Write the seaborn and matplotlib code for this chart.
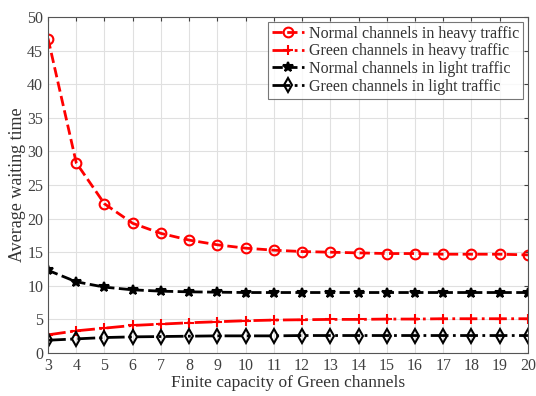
import numpy as np
import pandas as pd
import seaborn as sns
import matplotlib.pyplot as plt

# data
capacity = list(range(3, 21))
normal_heavy = [46.8, 28.3, 22.2, 19.3, 17.8, 16.8, 16.1, 15.6, 15.3, 15.1,
                15.0, 14.9, 14.8, 14.8, 14.7, 14.7, 14.7, 14.6]
green_heavy = [2.7, 3.3, 3.7, 4.1, 4.3, 4.5, 4.65, 4.8, 4.9, 4.95,
               5.0, 5.0, 5.05, 5.05, 5.1, 5.1, 5.1, 5.1]
normal_light = [12.3, 10.6, 9.8, 9.4, 9.2, 9.1, 9.05, 9.0, 9.0, 9.0,
                9.0, 9.0, 9.0, 9.0, 9.0, 9.0, 9.0, 9.0]
green_light = [1.9, 2.1, 2.3, 2.4, 2.45, 2.5, 2.55, 2.55, 2.55, 2.6,
               2.6, 2.6, 2.6, 2.6, 2.6, 2.6, 2.6, 2.6]

series = {
    'Normal channels in heavy traffic': normal_heavy,
    'Green channels in heavy traffic': green_heavy,
    'Normal channels in light traffic': normal_light,
    'Green channels in light traffic': green_light,
}
styles = {
    'Normal channels in heavy traffic': dict(color='#ff0000', ls='--', marker='o', mfc='none'),
    'Green channels in heavy traffic': dict(color='#ff0000', ls='-.', marker='+', mfc='none'),
    'Normal channels in light traffic': dict(color='black', ls='--', marker='*', mfc='black'),
    'Green channels in light traffic': dict(color='black', ls='-.', marker='d', mfc='none'),
}

sns.set_style('white')
plt.rcParams['font.family'] = ['Liberation Serif', 'DejaVu Serif']

fig = plt.figure(figsize=(5.36, 3.96), dpi=100)
ax = fig.add_axes([0.0896, 0.1086, 0.8954, 0.8484])

for name, vals in series.items():
    st = styles[name]
    df = pd.DataFrame({'x': capacity, 'y': vals})
    sns.lineplot(data=df, x='x', y='y', ax=ax, color=st['color'], linestyle=st['ls'],
                 linewidth=2, marker=st['marker'], markersize=7,
                 markerfacecolor=st['mfc'], markeredgecolor=st['color'],
                 markeredgewidth=1.5, label=name)

ax.set_xlim(3, 20)
ax.set_ylim(0, 50)
ax.set_xticks(capacity)
ax.set_yticks(np.arange(0, 51, 5))
ax.grid(True, color='#e0e0e0', linewidth=0.8)
ax.tick_params(direction='in', top=True, right=True, labelsize=11.5, length=3, colors='#404040')
for s in ax.spines.values():
    s.set_color('#555555')
    s.set_linewidth(0.8)
ax.set_xlabel('Finite capacity of Green channels', fontsize=12.5, labelpad=1, color='#333333')
ax.set_ylabel('Average waiting time', fontsize=13, labelpad=1, color='#333333')
leg = ax.legend(loc='upper right', fontsize=11.5, frameon=True, fancybox=False,
                edgecolor='#555555', borderaxespad=0.3, handlelength=2.0,
                handletextpad=0.3, labelspacing=0.1, borderpad=0.25)
leg.get_frame().set_linewidth(0.8)
for t in leg.get_texts():
    t.set_color('#333333')

fig.savefig('out.png', dpi=100)
